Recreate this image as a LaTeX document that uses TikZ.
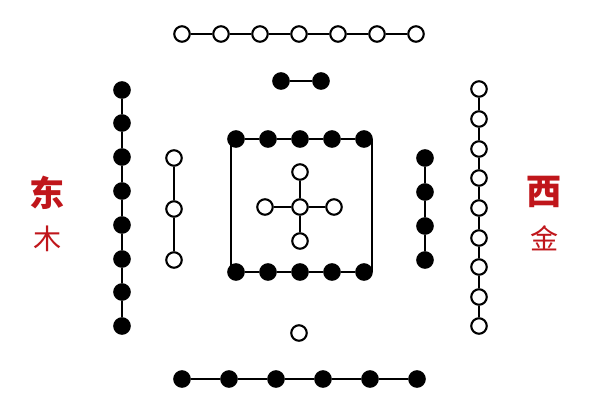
\documentclass[tikz,border=0pt]{standalone}
\usepackage{fontspec}
\newfontfamily\cjk{Noto Sans CJK SC}
\definecolor{hetured}{HTML}{C0161B}
\tikzset{
    yin/.style={circle, draw, fill=black, line width=1.2pt, minimum size=0.31cm, inner sep=0pt},
    yang/.style={circle, draw, fill=white, line width=1.2pt, minimum size=0.31cm, inner sep=0pt},
    link/.style={line width=1.5pt},
    fang/.style={text=hetured, font=\cjk\bfseries\fontsize{20}{20}\selectfont},
    xing/.style={text=hetured, font=\cjk\fontsize{16}{16}\selectfont},
}
\begin{document}
\begin{tikzpicture}[x=0.02cm, y=-0.02cm]
        \useasboundingbox (0,0) rectangle (600,400);

        % top: seven
        \foreach \i/\x in {1/182, 2/221, 3/260, 4/299, 5/338, 6/377, 7/416}
            \node[yang] (t\i) at (\x, 34) {};
        \foreach \i [evaluate=\i as \j using int(\i+1)] in {1,...,6}
            \draw[link] (t\i) -- (t\j);

        % top: two
        \node[yin] (s1) at (281, 81) {};
        \node[yin] (s2) at (321, 81) {};
        \draw[link] (s1) -- (s2);

        % left: eight
        \foreach \i/\y in {1/90, 2/123, 3/157, 4/191, 5/225, 6/259, 7/292, 8/326}
            \node[yin] (e\i) at (122, \y) {};
        \foreach \i [evaluate=\i as \j using int(\i+1)] in {1,...,7}
            \draw[link] (e\i) -- (e\j);

        % left: three
        \node[yang] (h1) at (174, 158) {};
        \node[yang] (h2) at (174, 209) {};
        \node[yang] (h3) at (174, 260) {};
        \draw[link] (h1) -- (h2);
        \draw[link] (h2) -- (h3);

        % centre: ten
        \foreach \i/\x in {1/236, 2/268, 3/300, 4/332, 5/364} {
            \node[yin] (q\i) at (\x, 139) {};
            \node[yin] (p\i) at (\x, 272) {};
        }
        \foreach \i [evaluate=\i as \j using int(\i+1)] in {1,...,4} {
            \draw[link] (q\i) -- (q\j);
            \draw[link] (p\i) -- (p\j);
        }
        \draw[link] ([xshift=-0.1cm]q1.center) -- ([xshift=-0.1cm]p1.center);
        \draw[link] ([xshift=0.16cm]q5.center) -- ([xshift=0.16cm]p5.center);

        % centre: five
        \node[yang] (c0) at (300, 207) {};
        \node[yang] (c1) at (300, 172) {};
        \node[yang] (c2) at (265, 207) {};
        \node[yang] (c3) at (334, 207) {};
        \node[yang] (c4) at (300, 241) {};
        \foreach \k in {1,...,4}
            \draw[link] (c0) -- (c\k);

        % right: four
        \foreach \i/\y in {1/158, 2/192, 3/226, 4/260}
            \node[yin] (f\i) at (425, \y) {};
        \foreach \i [evaluate=\i as \j using int(\i+1)] in {1,...,3}
            \draw[link] (f\i) -- (f\j);

        % right: nine
        \foreach \i/\y in {1/89, 2/119, 3/149, 4/178, 5/208, 6/238, 7/267, 8/297, 9/326}
            \node[yang] (n\i) at (479, \y) {};
        \foreach \i [evaluate=\i as \j using int(\i+1)] in {1,...,8}
            \draw[link] (n\i) -- (n\j);

        % bottom: one
        \node[yang] (o1) at (299, 333) {};

        % bottom: six
        \foreach \i/\x in {1/182, 2/229, 3/276, 4/323, 5/370, 6/417}
            \node[yin] (b\i) at (\x, 379) {};
        \foreach \i [evaluate=\i as \j using int(\i+1)] in {1,...,5}
            \draw[link] (b\i) -- (b\j);

        % labels
        \node[fang] (dong) at (47, 193) {东};
        \node[xing] (mu) at (48, 239) {木};
        \node[fang] (xi) at (544, 192) {西};
        \node[xing] (jin) at (545, 238) {金};

    \end{tikzpicture}
\end{document}
